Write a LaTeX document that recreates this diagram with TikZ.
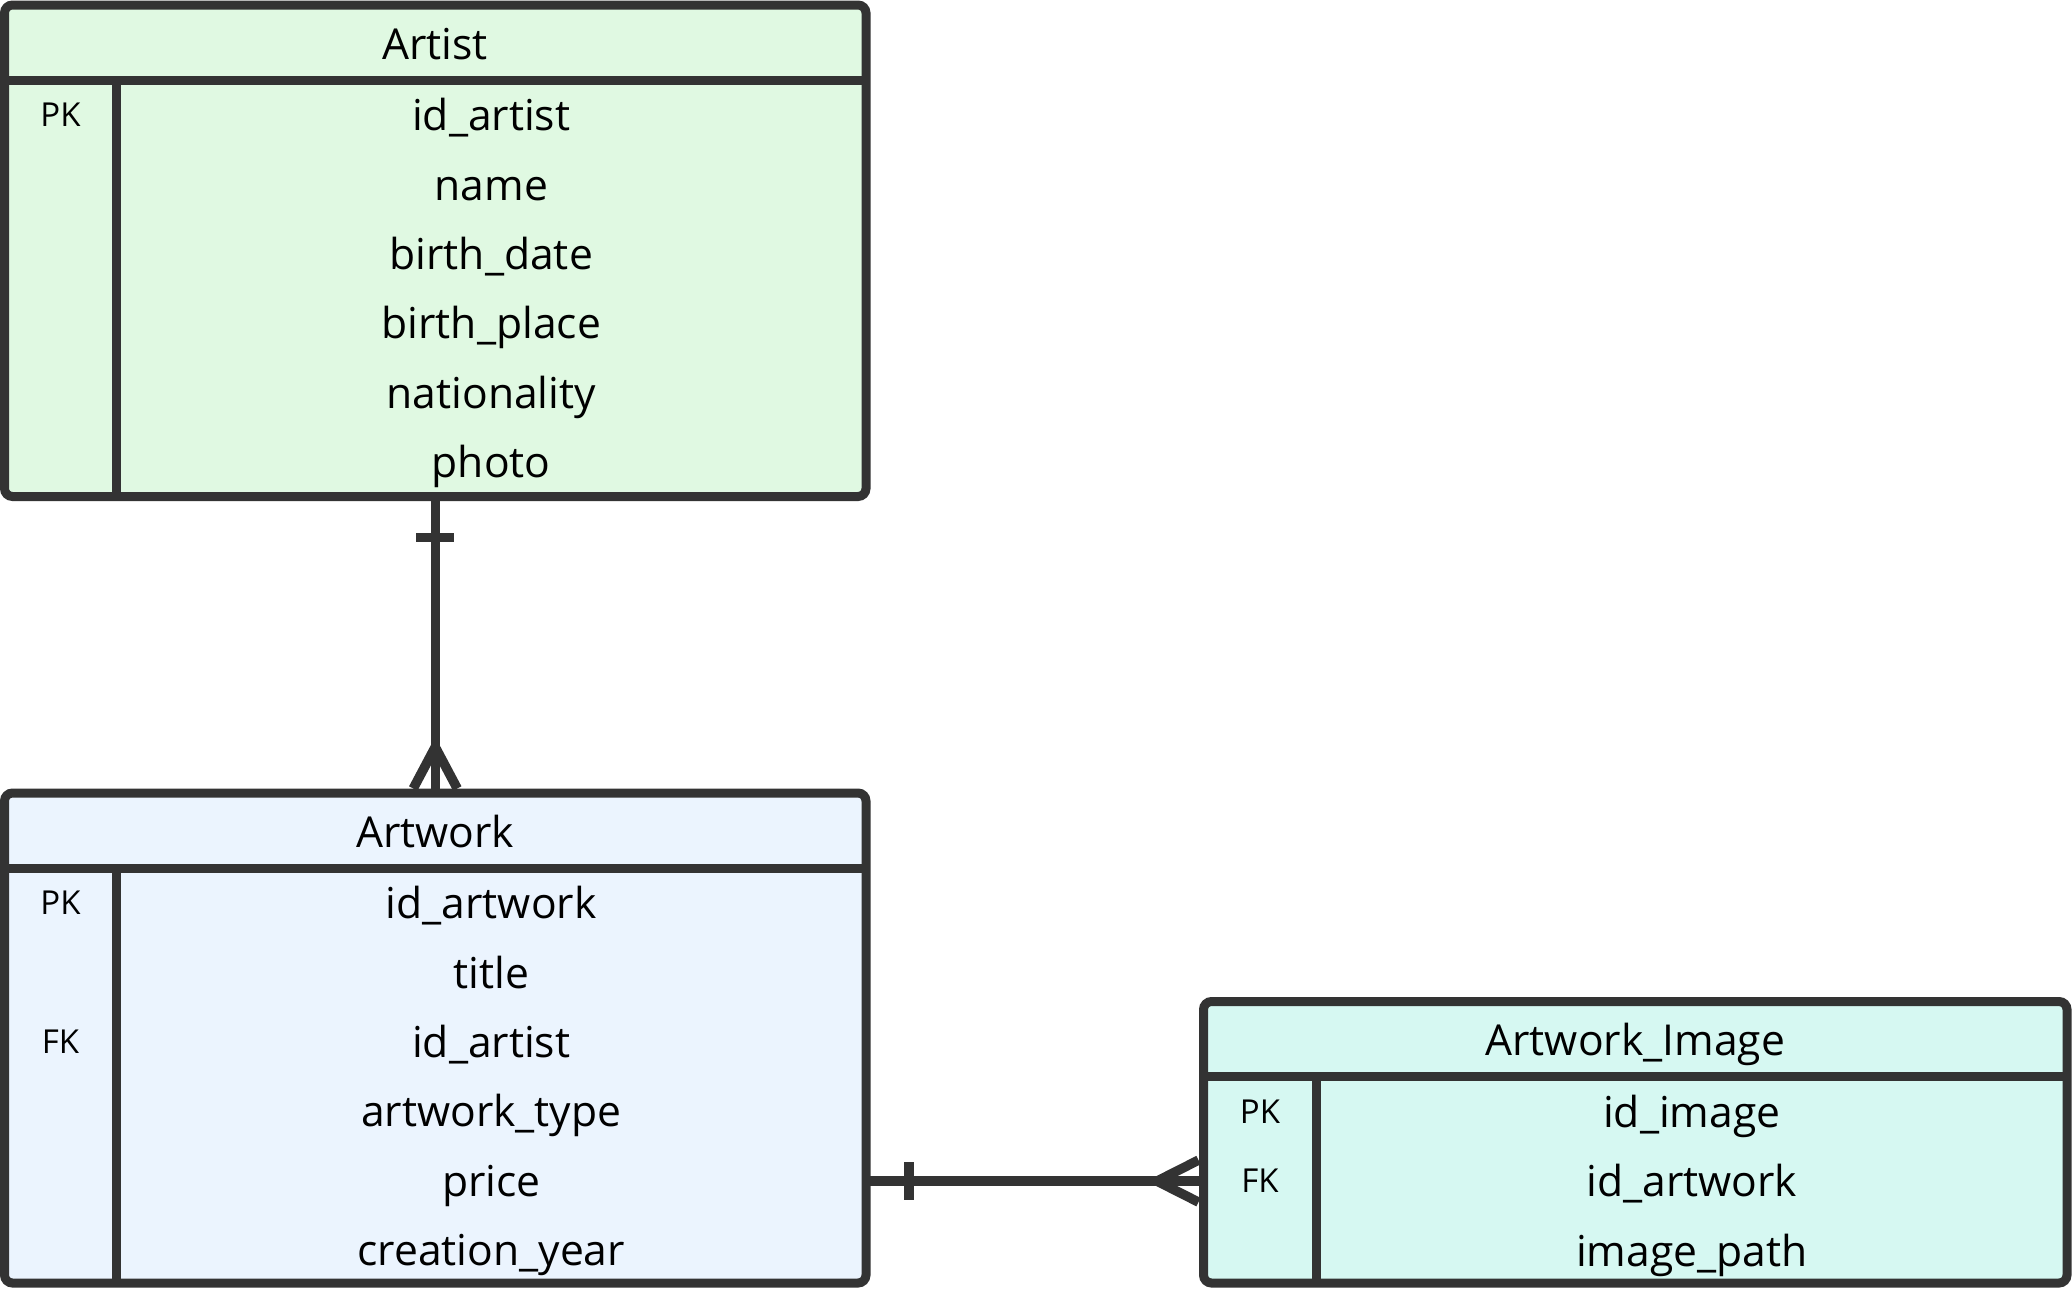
\documentclass[tikz,border=0pt]{standalone}
\usepackage{fontspec}
\setmainfont{Open Sans}
\usepackage{tikz}

\definecolor{edgegray}{HTML}{333333}
\definecolor{artistfill}{HTML}{E0F9E2}
\definecolor{artworkfill}{HTML}{EBF4FE}
\definecolor{imagefill}{HTML}{D6F8F2}

\begin{document}
\begin{tikzpicture}[x=1pt,y=-1pt,
    entity/.style={draw=edgegray, line width=9pt, rounded corners=8pt, outer sep=0pt,
                   inner sep=0pt, anchor=north west, minimum width=861.5pt},
    divider/.style={draw=edgegray, line width=9pt},
    title/.style={anchor=base, inner sep=0pt, font=\fontsize{42.6}{50}\selectfont},
    attr/.style={anchor=base, inner sep=0pt, font=\fontsize{42.6}{50}\selectfont},
    keyname/.style={anchor=base, inner sep=0pt, font=\fontsize{33}{40}\selectfont},
    rel/.style={draw=edgegray, line width=9.5pt}]
   \useasboundingbox[fill=white] (0,0) rectangle (2072,1288);

   % tables
   \node[entity, fill=artistfill, minimum height=491.5pt] (artist) at (4.5,5) {};
   \node[entity, fill=artworkfill, minimum height=490pt] (artwork) at (4.5,793) {};
   \node[entity, fill=imagefill, minimum height=281.5pt, minimum width=863.5pt] (image) at (1203.5,1001.5) {};

   \draw[divider] ([yshift=-75pt]artist.north west) -- ([yshift=-75pt]artist.north east);
   \draw[divider] ([xshift=112pt,yshift=-75pt]artist.north west) -- ([xshift=112pt]artist.south west);
   \draw[divider] ([yshift=-75pt]artwork.north west) -- ([yshift=-75pt]artwork.north east);
   \draw[divider] ([xshift=112pt,yshift=-75pt]artwork.north west) -- ([xshift=112pt]artwork.south west);
   \draw[divider] ([yshift=-75pt]image.north west) -- ([yshift=-75pt]image.north east);
   \draw[divider] ([xshift=113pt,yshift=-75pt]image.north west) -- ([xshift=113pt]image.south west);

   % titles
   \node[title] (artistT)  at ([yshift=-54pt]artist.north)  {Artist};
   \node[title] (artworkT) at ([yshift=-54pt]artwork.north) {Artwork};
   \node[title] (imageT)   at ([yshift=-54pt]image.north)   {Artwork\_Image};

   % attributes
   \foreach \f [count=\i] in {id\_artist,name,birth\_date,birth\_place,nationality,photo}
      \node[attr] (artistA\i) at ([xshift=486.75pt,yshift=-56.3pt-69.4pt*\i]artist.north west) {\f};
   \foreach \f [count=\i] in {id\_artwork,title,id\_artist,artwork\_type,price,creation\_year}
      \node[attr] (artworkA\i) at ([xshift=486.75pt,yshift=-56.3pt-69.4pt*\i]artwork.north west) {\f};
   \foreach \f [count=\i] in {id\_image,id\_artwork,image\_path}
      \node[attr] (imageA\i) at ([xshift=488.25pt,yshift=-56.3pt-69.4pt*\i]image.north west) {\f};

   % keys
   \node[keyname] (artistK1)  at ([xshift=56pt,yshift=-121.7pt]artist.north west)  {PK};
   \node[keyname] (artworkK1) at ([xshift=56pt,yshift=-121.7pt]artwork.north west) {PK};
   \node[keyname] (artworkK3) at ([xshift=56pt,yshift=-260.5pt]artwork.north west) {FK};
   \node[keyname] (imageK1)   at ([xshift=56.5pt,yshift=-121.7pt]image.north west) {PK};
   \node[keyname] (imageK2)   at ([xshift=56.5pt,yshift=-191.1pt]image.north west) {FK};

   % relations
   \coordinate (fkrow) at ([yshift=-179.6pt]image.north);
   \draw[rel] (artist.south) -- (artwork.north);
   \draw[rel] ([xshift=-19pt,yshift=-41pt]artist.south) -- ([xshift=19pt,yshift=-41pt]artist.south);
   \draw[rel] ([xshift=-22pt,yshift=4.5pt]artwork.north) -- ([yshift=46pt]artwork.north)
              -- ([xshift=22pt,yshift=4.5pt]artwork.north);

   \draw[rel] (artwork.east |- fkrow) -- (image.west |- fkrow);
   \draw[rel] ([xshift=43pt,yshift=19pt]artwork.east |- fkrow) -- ([xshift=43pt,yshift=-19pt]artwork.east |- fkrow);
   \draw[rel] ([xshift=-5pt,yshift=21pt]image.west |- fkrow) -- ([xshift=-46.5pt]image.west |- fkrow)
              -- ([xshift=-5pt,yshift=-21pt]image.west |- fkrow);
\end{tikzpicture}
\end{document}
